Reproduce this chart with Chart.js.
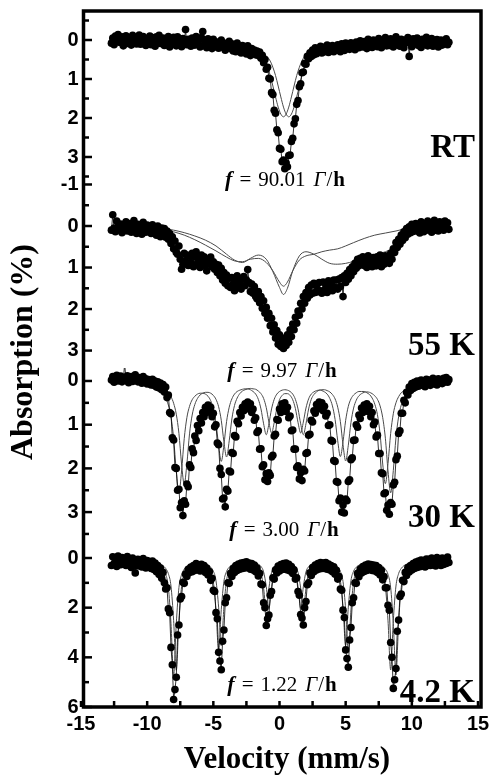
<!DOCTYPE html>
<html>
<head>
<meta charset="utf-8">
<title>Mössbauer spectra</title>
<script src="https://cdn.jsdelivr.net/npm/chart.js@4.4.1/dist/chart.umd.min.js"></script>
<style>
  html, body { margin: 0; padding: 0; background: #fff; }
  canvas { display: block; }
</style>
</head>
<body>
<canvas id="spectra" width="490" height="778"></canvas>
<script>
// velocity channels, mm/s
const velocity = [
  -12.7,-12.6,-12.5,-12.4,-12.3,-12.2,-12.1,-12.0,-11.9,-11.8,
  -11.7,-11.6,-11.5,-11.4,-11.3,-11.2,-11.1,-11.0,-10.9,-10.8,
  -10.7,-10.6,-10.5,-10.4,-10.3,-10.2,-10.1,-10.0,-9.9,-9.8,
  -9.7,-9.6,-9.5,-9.4,-9.3,-9.2,-9.1,-9.0,-8.9,-8.8,
  -8.7,-8.6,-8.5,-8.4,-8.3,-8.2,-8.1,-8.0,-7.9,-7.8,
  -7.7,-7.6,-7.5,-7.4,-7.3,-7.2,-7.1,-7.0,-6.9,-6.8,
  -6.7,-6.6,-6.5,-6.4,-6.3,-6.2,-6.1,-6.0,-5.9,-5.8,
  -5.7,-5.6,-5.5,-5.4,-5.3,-5.2,-5.1,-5.0,-4.9,-4.8,
  -4.7,-4.6,-4.5,-4.4,-4.3,-4.2,-4.1,-4.0,-3.9,-3.8,
  -3.7,-3.6,-3.5,-3.4,-3.3,-3.2,-3.1,-3.0,-2.9,-2.8,
  -2.7,-2.6,-2.5,-2.4,-2.3,-2.2,-2.1,-2.0,-1.9,-1.8,
  -1.7,-1.6,-1.5,-1.4,-1.3,-1.2,-1.1,-1.0,-0.9,-0.8,
  -0.7,-0.6,-0.5,-0.4,-0.3,-0.2,-0.1,0.0,0.1,0.2,
  0.3,0.4,0.5,0.6,0.7,0.8,0.9,1.0,1.1,1.2,
  1.3,1.4,1.5,1.6,1.7,1.8,1.9,2.0,2.1,2.2,
  2.3,2.4,2.5,2.6,2.7,2.8,2.9,3.0,3.1,3.2,
  3.3,3.4,3.5,3.6,3.7,3.8,3.9,4.0,4.1,4.2,
  4.3,4.4,4.5,4.6,4.7,4.8,4.9,5.0,5.1,5.2,
  5.3,5.4,5.5,5.6,5.7,5.8,5.9,6.0,6.1,6.2,
  6.3,6.4,6.5,6.6,6.7,6.8,6.9,7.0,7.1,7.2,
  7.3,7.4,7.5,7.6,7.7,7.8,7.9,8.0,8.1,8.2,
  8.3,8.4,8.5,8.6,8.7,8.8,8.9,9.0,9.1,9.2,
  9.3,9.4,9.5,9.6,9.7,9.8,9.9,10.0,10.1,10.2,
  10.3,10.4,10.5,10.6,10.7,10.8,10.9,11.0,11.1,11.2,
  11.3,11.4,11.5,11.6,11.7,11.8,11.9,12.0,12.1,12.2,
  12.3,12.4,12.5,12.6,12.7,12.8
];

// measured absorption (%), one value per channel
const absRT = [
  0.08,-0.05,0.12,-0.1,0.03,-0.14,0.06,0.01,-0.08,0.15,
  -0.03,-0.11,0.09,-0.06,0.04,0.13,-0.12,0.02,-0.07,0.1,
  0.05,-0.13,0.11,-0.02,-0.09,0.07,0.14,-0.04,0.0,-0.1,
  0.12,-0.06,0.03,0.16,-0.08,0.05,-0.12,0.09,0.01,-0.05,
  0.14,-0.02,0.08,-0.09,0.18,0.0,0.11,-0.07,0.05,0.15,
  -0.08,0.1,0.02,0.17,-0.04,0.07,-0.27,0.12,-0.02,0.09,
  0.16,-0.05,0.06,0.13,-0.09,0.1,0.0,0.18,-0.06,-0.22,
  0.12,0.02,0.2,-0.03,0.15,0.07,0.22,-0.02,0.1,0.17,
  0.05,0.21,0.12,0.0,0.18,0.08,0.26,0.1,0.16,0.03,
  0.22,0.1,0.28,0.16,0.3,0.08,0.24,0.18,0.33,0.14,
  0.3,0.2,0.36,0.15,0.28,0.4,0.22,0.32,0.26,0.38,
  0.28,0.4,0.31,0.47,0.39,0.58,0.5,0.75,0.7,0.98,
  1.0,1.35,1.4,1.8,1.88,2.3,2.38,2.78,2.8,3.12,
  3.08,3.3,3.15,3.25,2.96,2.95,2.6,2.52,2.15,2.02,
  1.65,1.55,1.2,1.12,0.84,0.82,0.6,0.62,0.42,0.48,
  0.33,0.42,0.26,0.38,0.2,0.35,0.22,0.3,0.16,0.33,
  0.19,0.3,0.25,0.13,0.32,0.22,0.28,0.14,0.3,0.2,
  0.26,0.12,0.23,0.3,0.1,0.2,0.27,0.08,0.22,0.15,
  0.24,0.07,0.18,0.12,0.25,0.05,0.16,0.2,0.02,0.14,
  0.18,0.04,0.12,0.22,-0.02,0.1,0.06,0.19,0.0,0.13,
  0.03,0.17,-0.04,0.1,0.2,0.02,0.12,-0.06,0.15,0.06,
  0.14,-0.03,0.08,0.18,0.01,-0.08,0.12,0.05,0.16,-0.02,
  0.09,0.2,0.0,0.07,-0.06,0.42,0.04,0.17,-0.03,0.1,
  0.06,-0.05,0.14,0.02,0.19,-0.02,0.08,0.12,-0.07,0.15,
  0.03,0.1,-0.04,0.16,0.05,0.11,-0.01,0.18,0.07,0.0,
  0.13,0.04,0.09,-0.03,0.12,0.06
];

const abs55K = [
  0.1,-0.27,0.05,0.14,-0.12,0.02,0.09,-0.05,0.16,-0.02,
  0.07,-0.1,0.12,0.0,-0.06,0.15,0.04,-0.13,0.08,0.18,
  -0.04,0.12,0.03,0.2,-0.09,0.08,0.15,-0.02,0.1,0.05,
  0.18,-0.03,0.12,0.08,0.22,0.0,0.16,0.26,0.05,0.2,
  0.06,0.27,0.12,0.32,0.18,0.42,0.26,0.55,0.36,0.64,
  0.68,0.48,0.8,1.04,0.92,0.66,0.85,0.7,0.95,0.72,
  0.88,0.66,0.98,0.74,0.62,0.9,0.78,1.0,0.7,0.86,
  0.74,0.96,1.08,0.8,0.9,0.75,0.98,0.86,1.04,0.92,
  1.12,0.94,1.2,1.02,1.3,1.12,1.38,1.18,1.44,1.26,
  1.48,1.24,1.4,1.56,1.3,1.2,1.45,1.35,1.52,1.28,
  1.22,1.44,1.3,1.05,1.36,1.58,1.4,1.62,1.46,1.7,
  1.75,1.58,1.85,1.7,1.98,1.8,2.1,1.96,2.22,2.1,
  2.4,2.22,2.55,2.38,2.7,2.52,2.85,2.62,2.9,2.74,
  2.95,2.7,2.88,2.62,2.8,2.5,2.66,2.36,2.5,2.2,
  2.34,2.05,2.15,1.86,2.0,1.7,1.86,1.6,1.74,1.48,
  1.66,1.42,1.62,1.38,1.6,1.44,1.58,1.36,1.56,1.62,
  1.35,1.55,1.4,1.6,1.32,1.5,1.38,1.56,1.3,1.48,
  1.3,1.52,1.28,1.46,1.24,1.7,1.2,1.36,1.14,1.28,
  1.05,1.2,0.98,1.1,0.9,1.02,0.8,0.96,0.78,0.92,
  0.74,0.95,0.8,1.0,0.72,0.9,0.78,0.98,0.76,0.88,
  0.96,0.74,0.9,0.7,0.98,0.8,0.92,0.72,0.86,0.78,
  0.9,0.66,0.8,0.55,0.64,0.4,0.52,0.32,0.44,0.22,
  0.35,0.14,0.28,0.06,0.2,0.02,0.16,-0.04,0.13,0.0,
  -0.06,0.12,0.03,0.17,-0.1,0.08,0.14,-0.02,0.1,-0.12,
  0.05,-0.08,0.15,0.0,-0.14,0.1,-0.03,0.12,-0.1,0.06,
  -0.05,0.1,-0.12,0.03,-0.08,0.08
];

const abs30K = [
  -0.02,-0.1,0.03,-0.08,-0.13,0.0,-0.06,-0.11,0.02,-0.04,
  -0.4,-0.01,-0.12,0.04,-0.06,-0.1,0.01,-0.07,-0.14,-0.03,
  0.02,-0.08,-0.02,0.05,-0.1,0.0,-0.05,0.07,-0.03,0.06,
  0.09,-0.04,0.1,0.0,0.14,0.02,0.16,0.05,0.2,0.08,
  0.25,0.14,0.38,0.32,0.72,0.75,1.3,1.35,1.98,2.0,
  2.5,2.48,2.9,2.78,3.08,2.74,2.82,2.36,2.42,1.92,
  1.98,1.55,1.64,1.26,1.36,1.02,1.14,0.86,0.96,0.72,
  0.82,0.6,0.72,0.55,0.7,0.6,0.82,0.74,1.05,1.0,
  1.42,1.46,2.0,2.14,2.7,2.68,2.88,2.48,2.52,2.06,
  2.08,1.64,1.66,1.25,1.28,0.92,0.98,0.72,0.8,0.6,
  0.68,0.52,0.62,0.48,0.64,0.52,0.72,0.64,0.9,0.84,
  1.18,1.14,1.56,1.55,1.96,1.92,2.26,2.12,2.3,2.1,
  2.16,1.74,1.7,1.26,1.22,0.88,0.9,0.64,0.72,0.52,
  0.66,0.5,0.7,0.6,0.84,0.8,1.14,1.12,1.56,1.56,
  1.98,1.94,2.24,2.1,2.28,2.02,2.06,1.66,1.64,1.24,
  1.22,0.9,0.94,0.68,0.74,0.54,0.64,0.48,0.62,0.5,
  0.68,0.58,0.8,0.74,1.02,1.0,1.36,1.38,1.82,1.84,
  2.3,2.32,2.74,2.68,3.0,2.84,3.02,2.7,2.74,2.3,
  2.26,1.8,1.76,1.36,1.35,1.0,1.06,0.78,0.86,0.62,
  0.72,0.55,0.68,0.52,0.7,0.58,0.82,0.72,1.0,0.94,
  1.28,1.24,1.66,1.66,2.1,2.12,2.58,2.56,2.96,2.84,
  3.05,2.78,2.82,2.38,2.32,1.8,1.72,1.2,1.14,0.74,
  0.74,0.44,0.5,0.26,0.32,0.14,0.22,0.06,0.17,0.03,
  0.14,0.0,0.12,0.04,-0.02,0.1,0.03,0.13,-0.04,0.08,
  -0.02,0.1,0.02,-0.06,0.07,0.0,0.09,-0.05,0.04,-0.01,
  0.06,-0.06,0.02,-0.08,0.03,-0.03
];

const abs4K = [
  0.3,-0.05,0.22,0.0,0.34,-0.08,0.15,0.27,-0.02,0.2,
  0.05,0.3,-0.06,0.24,0.1,0.38,0.0,0.22,0.6,0.3,
  0.05,0.32,0.12,0.36,0.02,0.28,0.4,0.1,0.35,0.14,
  0.42,0.12,0.46,0.2,0.55,0.3,0.66,0.4,0.82,0.58,
  1.0,1.25,1.2,2.05,2.2,3.6,4.3,5.7,5.3,4.8,
  3.1,2.7,1.65,1.55,0.98,1.02,0.65,0.74,0.46,0.58,
  0.36,0.55,0.3,0.5,0.22,0.46,0.28,0.52,0.25,0.48,
  0.3,0.58,0.4,0.68,0.55,0.9,0.82,1.3,1.35,2.2,
  2.45,3.8,4.15,4.5,3.35,2.9,1.8,1.6,1.0,1.02,
  0.62,0.74,0.42,0.58,0.3,0.5,0.24,0.45,0.2,0.42,
  0.18,0.4,0.15,0.38,0.2,0.45,0.22,0.48,0.28,0.55,
  0.4,0.72,0.62,1.05,1.08,1.8,2.0,2.72,2.45,2.3,
  1.5,1.35,0.8,0.85,0.48,0.6,0.32,0.52,0.26,0.46,
  0.22,0.45,0.2,0.48,0.25,0.52,0.34,0.62,0.48,0.85,
  0.8,1.35,1.5,2.28,2.42,2.7,2.0,1.75,1.08,1.0,
  0.6,0.7,0.38,0.55,0.28,0.48,0.22,0.44,0.18,0.42,
  0.2,0.42,0.18,0.45,0.24,0.48,0.3,0.55,0.35,0.65,
  0.5,0.85,0.75,1.25,1.3,2.1,2.4,3.7,4.05,4.4,
  3.3,2.8,1.8,1.6,1.0,1.02,0.62,0.75,0.44,0.6,
  0.34,0.54,0.28,0.5,0.24,0.46,0.26,0.5,0.28,0.52,
  0.3,0.58,0.38,0.68,0.5,0.88,0.75,1.2,1.2,1.9,
  2.1,3.4,4.0,5.25,4.9,4.45,2.95,2.5,1.55,1.45,
  0.9,0.95,0.58,0.7,0.38,0.56,0.3,0.48,0.22,0.42,
  0.16,0.38,0.12,0.35,0.08,0.32,0.1,0.36,0.04,0.3,
  0.05,0.3,0.0,0.28,0.1,0.32,-0.02,0.25,0.08,0.3,
  0.0,0.26,0.05,0.22,-0.04,0.18
];

// fitted sub-spectra (thin lines)
const rtFitVelocity = [
  -3.1,-2.9,-2.7,-2.5,-2.3,-2.1,-1.9,-1.7,-1.5,-1.3,
  -1.1,-0.9,-0.7,-0.5,-0.3,-0.1,0.1,0.3,0.5,0.7,
  0.9,1.1,1.3,1.5,1.7,1.9,2.1,2.3,2.5,2.7,
  2.9,3.1,3.3,3.5,3.7,3.9,4.1
];
const rtFitA = [
  0.2,0.21,0.22,0.24,0.26,0.29,0.31,0.33,0.37,0.44,
  0.54,0.7,0.91,1.18,1.46,1.72,1.9,1.97,1.9,1.72,
  1.46,1.18,0.91,0.7,0.53,0.42,0.36,0.32,0.29,0.27,
  0.26,0.25,0.24,0.23,0.23,0.22,0.22
];
const rtFitB = [
  0.2,0.21,0.22,0.24,0.26,0.28,0.3,0.31,0.32,0.35,
  0.38,0.44,0.54,0.7,0.91,1.18,1.46,1.72,1.9,1.97,
  1.9,1.72,1.46,1.18,0.89,0.68,0.51,0.41,0.34,0.3,
  0.27,0.25,0.24,0.23,0.23,0.22,0.22
];

const k55FitVelocity = [
  -12.6,-10.6,-9.6,-8.8,-8.0,-7.2,-6.4,-5.6,-4.8,-4.0,
  -3.4,-2.8,-2.2,-1.6,-1.0,-0.5,0.0,0.3,0.6,1.0,
  1.5,2.0,2.6,3.2,3.8,4.4,5.0,5.6,6.4,7.2,
  8.0,8.8,9.6,10.6,12.8
];
const k55FitA = [
  0.0,0.02,0.04,0.08,0.14,0.22,0.33,0.46,0.6,0.75,
  0.84,0.86,0.8,0.78,0.88,1.08,1.35,1.45,1.35,1.08,
  0.82,0.72,0.68,0.62,0.58,0.55,0.48,0.4,0.3,0.22,
  0.17,0.12,0.06,0.02,0.0
];
const k55FitB = [
  0.0,0.02,0.03,0.06,0.1,0.16,0.24,0.34,0.48,0.68,
  0.82,0.88,0.78,0.7,0.8,1.1,1.48,1.65,1.5,1.08,
  0.72,0.62,0.68,0.8,0.9,0.92,0.9,0.85,0.76,0.68,
  0.62,0.48,0.22,0.05,0.0
];

const sextetFitVelocity = [
  -10,-9.8,-9.6,-9.4,-9.2,-9,-8.8,-8.6,-8.4,-8.2,
  -8,-7.8,-7.6,-7.4,-7.2,-7,-6.8,-6.6,-6.4,-6.2,
  -6,-5.8,-5.6,-5.4,-5.2,-5,-4.8,-4.6,-4.4,-4.2,
  -4,-3.8,-3.6,-3.4,-3.2,-3,-2.8,-2.6,-2.4,-2.2,
  -2,-1.8,-1.6,-1.4,-1.2,-1,-0.8,-0.6,-0.4,-0.2,
  0,0.2,0.4,0.6,0.8,1,1.2,1.4,1.6,1.8,
  2,2.2,2.4,2.6,2.8,3,3.2,3.4,3.6,3.8,
  4,4.2,4.4,4.6,4.8,5,5.2,5.4,5.6,5.8,
  6,6.2,6.4,6.6,6.8,7,7.2,7.4,7.6,7.8,
  8,8.2,8.4,8.6,8.8,9,9.2,9.4,9.6,9.8,
  10
];
const k30FitA = [
  0.11,0.12,0.14,0.16,0.19,0.23,0.3,0.39,0.55,0.82,
  1.31,2.06,2.56,2.06,1.32,0.84,0.58,0.43,0.35,0.3,
  0.28,0.28,0.3,0.35,0.45,0.63,0.96,1.47,1.84,1.46,
  0.93,0.6,0.41,0.3,0.24,0.21,0.19,0.18,0.18,0.2,
  0.24,0.3,0.42,0.64,0.98,1.23,0.98,0.64,0.42,0.3,
  0.24,0.21,0.2,0.21,0.24,0.3,0.42,0.64,0.98,1.23,
  0.98,0.64,0.42,0.31,0.25,0.21,0.2,0.2,0.22,0.25,
  0.31,0.41,0.6,0.93,1.46,1.83,1.47,0.95,0.62,0.44,
  0.34,0.29,0.26,0.25,0.26,0.29,0.34,0.42,0.57,0.84,
  1.31,2.06,2.56,2.05,1.3,0.82,0.55,0.39,0.29,0.23,
  0.19
];
const k30FitB = [
  0.08,0.09,0.1,0.11,0.13,0.15,0.18,0.22,0.27,0.36,
  0.51,0.76,1.2,1.9,2.36,1.9,1.21,0.78,0.54,0.4,
  0.32,0.28,0.26,0.26,0.28,0.33,0.42,0.59,0.9,1.39,
  1.74,1.37,0.87,0.56,0.39,0.29,0.23,0.2,0.18,0.17,
  0.18,0.19,0.23,0.29,0.4,0.61,0.94,1.19,0.95,0.63,
  0.43,0.33,0.29,0.29,0.33,0.43,0.63,0.95,1.19,0.94,
  0.62,0.41,0.3,0.25,0.22,0.21,0.22,0.25,0.3,0.4,
  0.57,0.88,1.37,1.73,1.39,0.9,0.58,0.41,0.32,0.27,
  0.24,0.24,0.24,0.27,0.31,0.39,0.53,0.77,1.21,1.9,
  2.35,1.89,1.2,0.75,0.5,0.36,0.27,0.22,0.18,0.15,
  0.13
];
const k4FitA = [
  0.16,0.18,0.19,0.22,0.26,0.32,0.43,0.65,1.18,2.63,
  4.72,2.64,1.19,0.67,0.45,0.34,0.29,0.25,0.24,0.24,
  0.24,0.26,0.3,0.39,0.55,0.96,2.09,3.73,2.08,0.94,
  0.54,0.37,0.28,0.23,0.21,0.19,0.18,0.18,0.18,0.2,
  0.22,0.26,0.36,0.58,1.22,2.13,1.21,0.58,0.36,0.26,
  0.22,0.2,0.2,0.2,0.22,0.26,0.36,0.58,1.21,2.13,
  1.22,0.58,0.36,0.27,0.22,0.2,0.19,0.19,0.2,0.21,
  0.24,0.28,0.37,0.54,0.95,2.08,3.73,2.09,0.96,0.55,
  0.38,0.3,0.26,0.23,0.22,0.22,0.23,0.25,0.28,0.34,
  0.45,0.66,1.19,2.64,4.71,2.63,1.18,0.65,0.43,0.32,
  0.26
];
const k4FitB = [
  0.15,0.16,0.17,0.19,0.21,0.25,0.31,0.42,0.63,1.13,
  2.52,4.52,2.53,1.14,0.64,0.43,0.33,0.28,0.25,0.23,
  0.23,0.24,0.26,0.29,0.37,0.53,0.91,1.98,3.53,1.97,
  0.9,0.51,0.35,0.27,0.23,0.2,0.19,0.18,0.18,0.18,
  0.19,0.21,0.25,0.34,0.56,1.15,2.03,1.16,0.56,0.35,
  0.27,0.23,0.22,0.23,0.27,0.35,0.56,1.16,2.03,1.16,
  0.56,0.35,0.26,0.22,0.2,0.19,0.19,0.19,0.21,0.23,
  0.27,0.35,0.51,0.9,1.98,3.53,1.98,0.91,0.53,0.37,
  0.29,0.26,0.24,0.23,0.23,0.25,0.28,0.33,0.43,0.64,
  1.14,2.53,4.51,2.52,1.13,0.63,0.42,0.31,0.25,0.21,
  0.19
];

const panelLabels = ['RT', '55 K', '30 K', '4.2 K'];
const fValues = ['90.01', '9.97', '3.00', '1.22'];
const xTicks = [-15, -10, -5, 0, 5, 10, 15];
const xMinorTicks = [-12.5, -7.5, -2.5, 2.5, 7.5, 12.5];
const yTicks = [[0, 1, 2, 3], [-1, 0, 1, 2, 3], [0, 1, 2, 3], [0, 2, 4, 6]];
const yMinorTicks = [[-0.5, 0.5, 1.5, 2.5, 3.5], [-0.5, 0.5, 1.5, 2.5], [0.5, 1.5, 2.5, 3.5], [1, 3, 5]];

// stacked panels, top to bottom
const panels = [
  { id: 'yRT', values: absRT, fitV: rtFitVelocity, fits: [rtFitA, rtFitB], min: -0.744, max: 3.59, height: 169, labelY: 157, fX: 285, fY: 186 },
  { id: 'y55', values: abs55K, fitV: k55FitVelocity, fits: [k55FitA, k55FitB], min: -1.108, max: 3.42, height: 188, labelY: 355, fX: 282, fY: 377 },
  { id: 'y30', values: abs30K, fitV: sextetFitVelocity, fits: [k30FitA, k30FitB], min: -0.297, max: 3.753, height: 177, labelY: 527, fX: 284, fY: 536 },
  { id: 'y4', values: abs4K, fitV: sextetFitVelocity, fits: [k4FitA, k4FitB], min: -0.5235, max: 6, height: 162, labelY: 702, fX: 282, fY: 691 },
];

const SANS = "'Liberation Sans', Arial, sans-serif";
const SERIF = "'Liberation Serif', 'Times New Roman', serif";
const tickFont = { family: SANS, size: 20, weight: 'bold' };

const datasets = [];
panels.forEach((p) => {
  datasets.push({
    data: velocity.map((v, i) => ({ x: v, y: p.values[i] })),
    yAxisID: p.id,
    showLine: true,
    borderColor: '#000',
    borderWidth: 0.8,
    pointRadius: 3.8,
    pointBackgroundColor: '#000',
    pointBorderWidth: 0,
    order: 0,
  });
  p.fits.forEach((fit) => {
    datasets.push({
      data: p.fitV.map((v, i) => ({ x: v, y: fit[i] })),
      yAxisID: p.id,
      showLine: true,
      borderColor: '#4a4a4a',
      borderWidth: 1,
      pointRadius: 0,
      cubicInterpolationMode: 'monotone',
      order: 1,
    });
  });
});

const scales = {
  x: {
    type: 'linear',
    min: -15,
    max: 15,
    afterBuildTicks: (axis) => { axis.ticks = xTicks.map((v) => ({ value: v })); },
    afterFit: (axis) => { axis.height = 71; axis.paddingLeft = 0; axis.paddingRight = 0; },
    grid: { display: false, drawTicks: false },
    border: { display: false },
    ticks: { font: tickFont, color: '#000', padding: 5, maxRotation: 0, autoSkip: false },
  },
};
panels.forEach((p, k) => {
  scales[p.id] = {
    type: 'linear',
    position: 'left',
    stack: 'spectra',
    stackWeight: p.height,
    weight: panels.length - k,
    reverse: true,
    min: p.min,
    max: p.max,
    afterBuildTicks: (axis) => { axis.ticks = yTicks[k].map((v) => ({ value: v })); },
    afterFit: (axis) => { axis.width = 81; axis.paddingTop = 0; axis.paddingBottom = 0; },
    grid: { display: false, drawTicks: false },
    border: { display: false },
    ticks: { font: tickFont, color: '#000', padding: 2.5, autoSkip: false },
  };
});

function stroke(ctx, x1, y1, x2, y2) {
  ctx.beginPath();
  ctx.moveTo(x1, y1);
  ctx.lineTo(x2, y2);
  ctx.stroke();
}

function drawFLabel(ctx, value, cx, y) {
  const parts = [
    { t: 'f', font: `italic bold 22px ${SERIF}`, gap: 7 },
    { t: '=', font: `21px ${SERIF}`, gap: 7 },
    { t: value, font: `21px ${SERIF}`, gap: 8 },
    { t: '\u0393', font: `italic 21px ${SERIF}`, gap: 1 },
    { t: '/', font: `21px ${SERIF}`, gap: 1 },
    { t: 'h', font: `bold 21px ${SERIF}`, gap: 0 },
  ];
  let total = 0;
  parts.forEach((part) => {
    ctx.font = part.font;
    part.w = ctx.measureText(part.t).width;
    total += part.w + part.gap;
  });
  let x = cx - total / 2;
  ctx.textAlign = 'left';
  ctx.textBaseline = 'alphabetic';
  parts.forEach((part) => {
    ctx.font = part.font;
    ctx.fillText(part.t, x, y);
    x += part.w + part.gap;
  });
}

const decorations = {
  id: 'decorations',
  afterDraw(chart) {
    const { ctx, chartArea: area } = chart;
    const left = area.left + 2.5;
    const right = area.right + 3;
    ctx.save();
    ctx.strokeStyle = '#000';
    ctx.fillStyle = '#000';

    // inward tick marks
    ctx.lineWidth = 2.5;
    panels.forEach((p, k) => {
      const s = chart.scales[p.id];
      yTicks[k].forEach((v) => { const y = s.getPixelForValue(v); stroke(ctx, left, y, left + 8.5, y); });
      yMinorTicks[k].forEach((v) => { const y = s.getPixelForValue(v); stroke(ctx, left, y, left + 5.5, y); });
    });
    const sx = chart.scales.x;
    xTicks.concat(xMinorTicks).forEach((v) => {
      const x = sx.getPixelForValue(v);
      stroke(ctx, x, area.bottom, x, area.bottom - 6);
    });

    // frame
    ctx.lineWidth = 3.5;
    ctx.strokeRect(left, area.top, right - left, area.bottom - area.top);

    // panel annotations
    ctx.font = `bold 33px ${SERIF}`;
    ctx.textAlign = 'right';
    ctx.textBaseline = 'alphabetic';
    panels.forEach((p, k) => ctx.fillText(panelLabels[k], 475, p.labelY));
    panels.forEach((p, k) => drawFLabel(ctx, fValues[k], p.fX, p.fY));

    // axis titles
    ctx.font = `bold 31px ${SERIF}`;
    ctx.textAlign = 'center';
    ctx.fillText('Velocity (mm/s)', 287, 768);
    ctx.save();
    ctx.translate(32, 352);
    ctx.rotate(-Math.PI / 2);
    ctx.font = `bold 32px ${SERIF}`;
    ctx.fillText('Absorption (%)', 0, 0);
    ctx.restore();

    ctx.restore();
  },
};

new Chart(document.getElementById('spectra'), {
  type: 'scatter',
  data: { datasets },
  options: {
    responsive: false,
    devicePixelRatio: 1,
    animation: false,
    events: [],
    layout: { padding: { top: 11, right: 12, bottom: 0, left: 0 } },
    scales,
    plugins: {
      legend: { display: false },
      tooltip: { enabled: false },
    },
  },
  plugins: [decorations],
});
</script>
</body>
</html>
